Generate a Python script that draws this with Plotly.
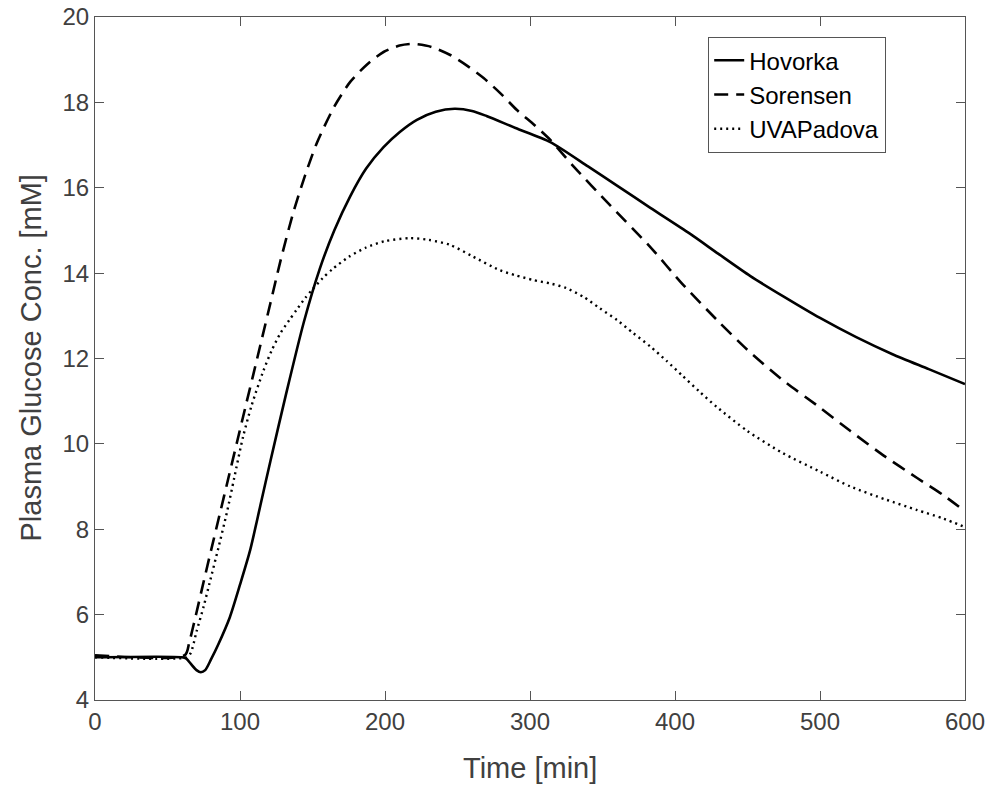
import plotly.graph_objects as go

# Time [min] and plasma glucose [mM]
hov_t = [0, 60, 63, 66, 70, 73, 76, 80, 85, 93, 100, 107, 114, 121, 132, 144, 155, 165, 176, 187,
         199, 210, 222, 235, 248, 260, 270, 290, 314, 340, 360, 383, 410, 430, 452, 475, 500, 525,
         550, 575, 600]
hov_v = [5.0, 5.0, 4.97, 4.85, 4.70, 4.65, 4.70, 4.95, 5.3, 5.94, 6.7, 7.51, 8.55, 9.6, 11.2, 12.85,
         14.1, 15.0, 15.8, 16.45, 16.95, 17.3, 17.59, 17.78, 17.85, 17.8, 17.68, 17.4, 17.07, 16.5,
         16.05, 15.53, 14.93, 14.45, 13.93, 13.45, 12.95, 12.5, 12.1, 11.75, 11.4]

sor_t = [0, 62, 65, 70, 75, 80, 86, 92, 98, 104, 109, 115, 121, 128, 137, 145, 153, 165, 176, 188,
         199, 210, 219, 232, 245, 257, 268, 280, 291, 303, 314, 330, 355, 383, 405, 429, 450, 474,
         500, 521, 545, 567, 585, 600]
sor_v = [5.05, 5.05, 5.35, 6.05, 6.78, 7.5, 8.35, 9.2, 10.05, 10.9, 11.6, 12.45, 13.3, 14.3, 15.45,
         16.3, 17.05, 17.9, 18.48, 18.9, 19.18, 19.33, 19.37, 19.3, 19.11, 18.85, 18.57, 18.2, 17.82,
         17.47, 17.12, 16.5, 15.6, 14.61, 13.75, 12.9, 12.2, 11.5, 10.85, 10.3, 9.7, 9.2, 8.8, 8.42]

uva_t = [0, 63, 66, 70, 75, 79, 85, 91, 96, 102, 108, 116, 122, 128, 134, 139, 145, 150, 157, 164,
         175, 187, 200, 217, 230, 245, 260, 279, 290, 302, 315, 325, 337, 348, 360, 371, 383, 394,
         405, 417, 429, 450, 474, 500, 521, 545, 567, 585, 600]
uva_v = [5.0, 5.0, 5.1, 5.6, 6.2, 6.74, 7.55, 8.4, 9.2, 10.15, 10.9, 11.7, 12.2, 12.6, 12.9, 13.14,
         13.42, 13.62, 13.88, 14.1, 14.38, 14.6, 14.75, 14.82, 14.78, 14.66, 14.4, 14.07, 13.95,
         13.84, 13.75, 13.65, 13.44, 13.18, 12.9, 12.6, 12.28, 11.95, 11.6, 11.22, 10.86, 10.3,
         9.79, 9.35, 9.0, 8.7, 8.45, 8.25, 8.05]

x_ticks = [0, 100, 200, 300, 400, 500, 600]
y_ticks = [4, 6, 8, 10, 12, 14, 16, 18, 20]

FONT = "Liberation Sans, Arial, Helvetica, sans-serif"
TXT = "#404040"
AX = "#555555"

fig = go.Figure()
fig.add_trace(go.Scatter(x=hov_t, y=hov_v, name="Hovorka", mode="lines",
                         line=dict(color="black", width=2.6, shape="spline", smoothing=0.7)))
fig.add_trace(go.Scatter(x=sor_t, y=sor_v, name="Sorensen", mode="lines",
                         line=dict(color="black", width=2.6, dash="14px,8px", shape="spline", smoothing=0.7)))
fig.add_trace(go.Scatter(x=uva_t, y=uva_v, name="UVAPadova", mode="lines",
                         line=dict(color="black", width=2.4, dash="2px,4px", shape="spline", smoothing=0.7)))

axis_common = dict(showline=True, linecolor=AX, linewidth=1.2, mirror="ticks",
                   ticks="inside", ticklen=9, tickcolor=AX, tickwidth=1.2,
                   showgrid=False, zeroline=False, automargin=False,
                   ticklabeloverflow="allow",
                   tickfont=dict(family=FONT, size=24, color=TXT))

fig.update_xaxes(range=[0, 600], tickvals=x_ticks, **axis_common)
fig.update_yaxes(range=[4, 20], tickvals=y_ticks, **axis_common)

fig.add_annotation(text="Time [min]", xref="paper", yref="paper", x=0.5, y=-0.0996,
                   xanchor="center", yanchor="middle", showarrow=False,
                   font=dict(family=FONT, size=29, color=TXT))
fig.add_annotation(text="Plasma Glucose Conc. [mM]", xref="paper", yref="paper", x=-0.0747, y=0.5,
                   xanchor="center", yanchor="middle", textangle=-90, showarrow=False,
                   font=dict(family=FONT, size=29, color=TXT))

fig.update_layout(
    width=1002, height=786,
    margin=dict(l=95, r=37, t=17, b=86, autoexpand=False),
    paper_bgcolor="white", plot_bgcolor="white",
    font=dict(family=FONT, color="#222222"),
    legend=dict(x=0.7046, y=0.9707, xanchor="left", yanchor="top",
                bgcolor="white", bordercolor=AX, borderwidth=1.2,
                font=dict(family=FONT, size=24, color="black"),
                tracegroupgap=0),
    showlegend=True,
)

fig.write_html("out.html",
               config={"displayModeBar": False},
               post_script="document.body.style.margin='0';document.body.style.overflow='hidden';")
